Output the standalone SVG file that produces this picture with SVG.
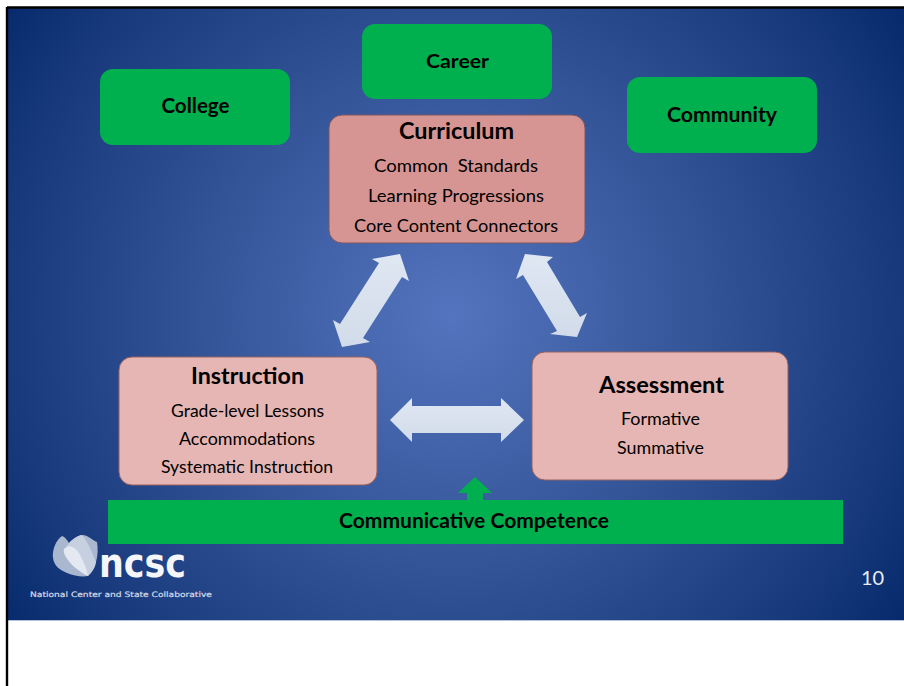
<svg xmlns="http://www.w3.org/2000/svg" width="904" height="686" viewBox="0 0 904 686">
<style>
.t{font-family:Lato,"Liberation Sans",sans-serif;fill:#000;text-anchor:middle;white-space:pre}
.b{font-weight:700}
.h{font-size:22.500px}
.g{font-size:20.500px}
.s{font-size:18px}
.green{fill:#00b04f}
.pink{fill:#e6b6b4;stroke:#98605e;stroke-width:1}
.rose{fill:#d69592;stroke:#7d5560;stroke-width:1}
.arrow{fill:url(#arr)}
</style>
<defs>
<radialGradient id="bg" gradientUnits="userSpaceOnUse" cx="452" cy="315" r="560">
<stop offset="0" stop-color="#5474bf"/>
<stop offset="0.45" stop-color="#335497"/>
<stop offset="0.8" stop-color="#183a7c"/>
<stop offset="1" stop-color="#03276a"/>
</radialGradient>
<linearGradient id="arr" x1="0" y1="0" x2="0" y2="1">
<stop offset="0" stop-color="#dfe7f3"/>
<stop offset="1" stop-color="#d2dbe9"/>
</linearGradient>
</defs>
<rect width="904" height="686" fill="#fff"/>
<rect x="8" y="8" width="896" height="612" fill="url(#bg)"/>
<path d="M8 620.500H904" stroke="#b4c2dc" stroke-width="1"/>
<path d="M7 7.500H904M7 7V686" fill="none" stroke="#000" stroke-width="2.400"/>
<g id="connectors">
<path class="arrow" d="M400 254 L372 259 L379 263 L340 324 L333 320 L342 347 L370 342 L363 338 L402 277 L409 281 Z"/>
<path class="arrow" d="M525 254 L553 257 L547 262 L580 317 L587 313 L577 337 L550 334 L557 331 L523 275 L516 279 Z"/>
<path class="arrow" d="M390 420 L412 398 V406 H501 V398 L524 420 L501 442 V433 H412 V442 Z"/>
<path class="green" d="M475 477 L492 493 H483 V500 H467 V493 H458 Z"/>
</g>
<g id="college"><rect class="green" x="100" y="69" width="190" height="76" rx="13"/><text class="t b g" x="195.500" y="113" textLength="68" lengthAdjust="spacingAndGlyphs">College</text></g>
<g id="career"><rect class="green" x="362" y="24" width="190" height="75" rx="13"/><text class="t b" font-size="19" x="457.500" y="68" textLength="63" lengthAdjust="spacingAndGlyphs">Career</text></g>
<g id="community"><rect class="green" x="627" y="77" width="190" height="76" rx="13"/><text class="t b g" x="722" y="122" textLength="110" lengthAdjust="spacingAndGlyphs">Community</text></g>
<g id="curriculum"><rect class="rose" x="329" y="115" width="256" height="128" rx="13"/>
<text class="t b h" x="456.500" y="139" textLength="115" lengthAdjust="spacingAndGlyphs">Curriculum</text>
<text class="t s" x="456" y="172" textLength="164" lengthAdjust="spacingAndGlyphs">Common  Standards</text>
<text class="t s" x="456" y="202" textLength="176" lengthAdjust="spacingAndGlyphs">Learning Progressions</text>
<text class="t s" x="456" y="232" textLength="204" lengthAdjust="spacingAndGlyphs">Core Content Connectors</text></g>
<g id="instruction"><rect class="pink" x="119" y="357" width="258" height="128" rx="13"/>
<text class="t b h" x="247.500" y="384" textLength="113" lengthAdjust="spacingAndGlyphs">Instruction</text>
<text class="t s" x="247.500" y="417" textLength="153" lengthAdjust="spacingAndGlyphs">Grade-level Lessons</text>
<text class="t s" x="247" y="445" textLength="136" lengthAdjust="spacingAndGlyphs">Accommodations</text>
<text class="t s" x="247" y="473" textLength="172" lengthAdjust="spacingAndGlyphs">Systematic Instruction</text></g>
<g id="assessment"><rect class="pink" x="532" y="352" width="256" height="128" rx="13"/>
<text class="t b h" x="661.500" y="393" textLength="125" lengthAdjust="spacingAndGlyphs">Assessment</text>
<text class="t s" x="660.500" y="425" textLength="79" lengthAdjust="spacingAndGlyphs">Formative</text>
<text class="t s" x="660.500" y="454" textLength="87" lengthAdjust="spacingAndGlyphs">Summative</text></g>
<g id="competence"><rect class="green" x="108" y="500" width="735" height="44"/>
<text class="t b" font-size="20" x="474" y="528" textLength="270" lengthAdjust="spacingAndGlyphs">Communicative Competence</text></g>
<g id="logo">
<path d="M62 536 C56 540 52 550 53 558 C54 566 60 570 67 573 C74 576 82 577 88 576 C92 572 95 568 96 562 C98 555 98 548 97 542 C92 540 88 535 82 535 C76 536 72 540 69 543 C67 540 65 537 62 536Z" fill="#a9b7cf"/>
<path d="M82 535 C76 536 70 541 66 547 C72 556 82 568 88 576 C92 572 95 568 96 562 C92 552 88 542 82 535Z" fill="#c6d0e0"/>
<path d="M64 549 C70 543 76 548 80 555 C84 562 87 570 88 576 C80 572 72 566 68 560 C65 556 63 552 64 549Z" fill="#e4e9f1"/>
<text x="99" y="577" font-family="DejaVu Sans,sans-serif" font-weight="700" font-size="41" fill="#f4f6fa" textLength="87" lengthAdjust="spacingAndGlyphs">ncsc</text>
<text x="30" y="597" font-family="DejaVu Sans,sans-serif" font-size="7.500" fill="#d5dbe8" stroke="#d5dbe8" stroke-width="0.200" textLength="182" lengthAdjust="spacingAndGlyphs">National Center and State Collaborative</text>
</g>
<text id="page" x="872.500" y="585" font-family="Lato,sans-serif" font-size="20" fill="#e9edf5" text-anchor="middle">10</text>
</svg>
